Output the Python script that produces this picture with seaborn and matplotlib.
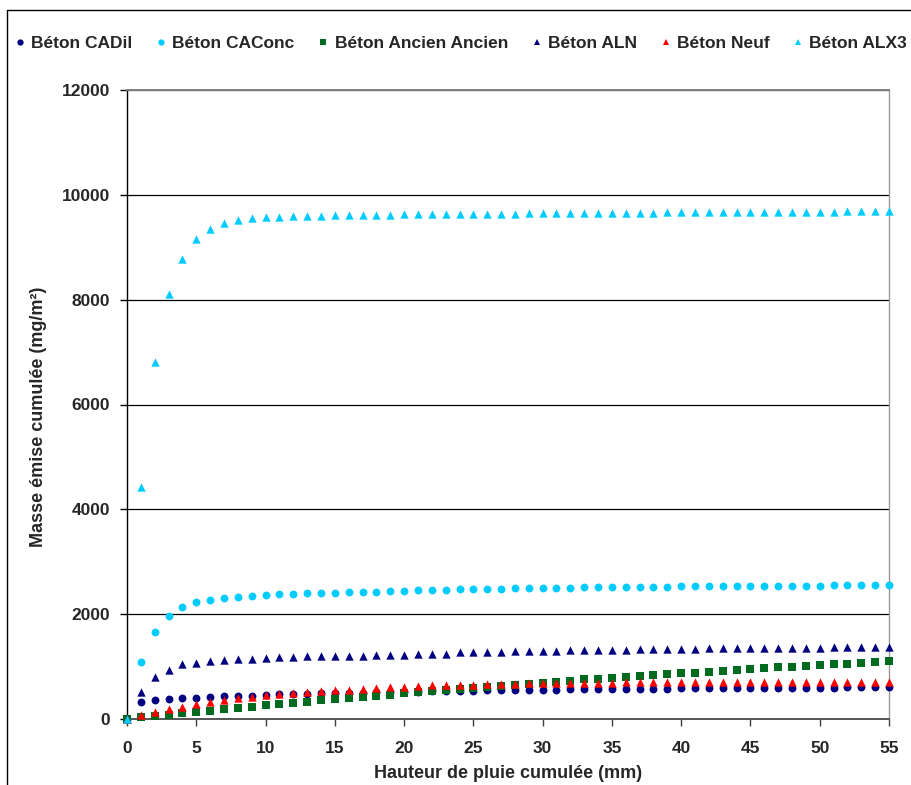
import numpy as np
import pandas as pd
import matplotlib
matplotlib.use("Agg")
import matplotlib.pyplot as plt
import seaborn as sns
from matplotlib.lines import Line2D

# ---------------- data ----------------
hauteur = list(range(0, 56))

series_names = ["Béton CADil", "Béton CAConc", "Béton Ancien Ancien",
                "Béton ALN", "Béton Neuf", "Béton ALX3"]

cadil = [0, 318, 369, 388, 407, 410, 426, 430, 445, 448,
         458, 468, 471, 485, 490, 495, 500, 505, 510, 515,
         520, 522, 525, 530, 541, 541, 545, 560, 560, 560,
         562, 562, 579, 579, 579, 580, 580, 580, 581, 581,
         598, 598, 598, 598, 598, 598, 599, 599, 599, 599,
         600, 600, 617, 617, 617, 617]

caconc = [0, 1094, 1660, 1965, 2137, 2232, 2270, 2308, 2327, 2346,
          2365, 2379, 2385, 2398, 2398, 2404, 2417, 2417, 2429, 2436,
          2435, 2461, 2461, 2461, 2474, 2474, 2474, 2474, 2493, 2493,
          2493, 2493, 2493, 2512, 2512, 2512, 2512, 2512, 2512, 2512,
          2531, 2531, 2531, 2531, 2531, 2531, 2531, 2531, 2531, 2531,
          2531, 2556, 2556, 2556, 2556, 2556]

ancien = [0, 32, 57, 76, 121, 140, 159, 197, 216, 235,
          273, 292, 312, 331, 369, 388, 407, 426, 445, 464,
          502, 515, 534, 553, 566, 585, 610, 630, 655, 674,
          693, 712, 731, 757, 769, 788, 808, 827, 846, 865,
          884, 884, 903, 922, 941, 960, 979, 998, 998, 1017,
          1036, 1056, 1056, 1075, 1094, 1113]

aln = [0, 509, 795, 941, 1043, 1075, 1113, 1126, 1145, 1151,
       1170, 1176, 1189, 1195, 1195, 1208, 1208, 1210, 1227, 1227,
       1230, 1246, 1246, 1246, 1272, 1272, 1272, 1272, 1297, 1297,
       1297, 1297, 1316, 1316, 1316, 1316, 1316, 1329, 1329, 1329,
       1329, 1329, 1348, 1348, 1348, 1348, 1348, 1348, 1348, 1348,
       1348, 1367, 1367, 1367, 1367, 1367]

neuf = [0, 70, 127, 184, 223, 280, 324, 356, 394, 413,
        452, 477, 496, 522, 540, 545, 560, 579, 598, 604,
        617, 625, 642, 642, 655, 658, 661, 668, 670, 680,
        680, 690, 693, 693, 693, 695, 697, 700, 702, 704,
        706, 706, 706, 706, 706, 706, 706, 706, 706, 706,
        706, 706, 706, 706, 706, 706]

alx3 = [0, 4432, 6816, 8107, 8775, 9157, 9342, 9456, 9519, 9557,
        9577, 9580, 9596, 9598, 9600, 9608, 9610, 9612, 9614, 9615,
        9625, 9625, 9625, 9625, 9625, 9625, 9627, 9627, 9627, 9646,
        9646, 9646, 9646, 9646, 9646, 9646, 9646, 9646, 9646, 9666,
        9666, 9666, 9666, 9666, 9666, 9666, 9666, 9666, 9666, 9666,
        9666, 9666, 9685, 9685, 9685, 9685]

x_ticks = list(range(0, 56, 5))
y_ticks = list(range(0, 12001, 2000))

# ---------------- styling ----------------
colors = {"Béton CADil": "#000080", "Béton CAConc": "#00CCFF",
          "Béton Ancien Ancien": "#006A1E", "Béton ALN": "#000080",
          "Béton Neuf": "#FF0000", "Béton ALX3": "#00CCFF"}
markers = {"Béton CADil": "o", "Béton CAConc": "o",
           "Béton Ancien Ancien": "s", "Béton ALN": "^",
           "Béton Neuf": "^", "Béton ALX3": "^"}
sizes = {"o": 32, "s": 28, "^": 36}

values = [cadil, caconc, ancien, aln, neuf, alx3]
df = pd.concat([pd.DataFrame({"x": hauteur, "y": v, "serie": n})
                for n, v in zip(series_names, values)], ignore_index=True)

sns.set_style("white")
plt.rcParams['font.family'] = ['Liberation Sans', 'DejaVu Sans']
FS_TICK = 12.5
FS_LAB = 13
FS_LEG = 12.5

fig = plt.figure(figsize=(9.11, 7.85), dpi=100)
W, H = 911, 785
ax = fig.add_axes([127 / W, 1 - 719 / H, (889 - 127) / W, (719 - 90) / H])

for name in series_names:
    sub = df[df["serie"] == name]
    m = markers[name]
    sns.scatterplot(data=sub, x="x", y="y", ax=ax, marker=m,
                    color=colors[name], s=sizes[m], linewidth=0,
                    clip_on=False, legend=False, zorder=3)

ax.set_xlim(0, 55)
ax.set_ylim(0, 12000)
ax.set_xticks(x_ticks)
ax.set_yticks(y_ticks)
ax.set_xticklabels([str(t) for t in x_ticks], fontsize=FS_TICK, fontweight="bold")
ax.set_yticklabels([str(t) for t in y_ticks], fontsize=FS_TICK, fontweight="bold")
ax.tick_params(axis="y", direction="out", length=5, width=1, color="black", pad=7, left=True)
ax.tick_params(axis="x", direction="out", length=5, width=1, color="#404040", pad=11, bottom=True)

ax.set_axisbelow(True)
ax.yaxis.grid(True, color="black", linewidth=0.9)
ax.xaxis.grid(False)

ax.spines["left"].set_color("black")
ax.spines["left"].set_linewidth(1.0)
ax.spines["bottom"].set_color("#555555")
ax.spines["bottom"].set_linewidth(1.4)
ax.spines["top"].set_color("#808080")
ax.spines["top"].set_linewidth(1.4)
ax.spines["right"].set_color("#999999")
ax.spines["right"].set_linewidth(1.0)

ax.set_xlabel("Hauteur de pluie cumulée (mm)", fontsize=FS_LAB, fontweight="bold", labelpad=6)
ax.set_ylabel("Masse émise cumulée (mg/m²)", fontsize=FS_LAB, fontweight="bold")
ax.yaxis.set_label_coords((47 - 127) / 762, (719 - 417) / 629)

# legend
handles = [Line2D([], [], linestyle="none", marker=markers[n], color=colors[n],
                  markersize=4.5 if markers[n] != "s" else 4, markeredgewidth=0)
           for n in series_names]
fig.legend(handles, series_names, loc="center", bbox_to_anchor=(461 / W, 1 - 43 / H),
           ncol=6, frameon=False, handlelength=0.6, handletextpad=0.35,
           columnspacing=1.35, prop={"size": FS_LEG, "weight": "bold"})

# outer chart frame (partially visible)
fig.add_artist(Line2D([7 / W, 7 / W], [0, 1 - 10 / H], transform=fig.transFigure,
                      color="black", linewidth=1))
fig.add_artist(Line2D([7 / W, 1.0], [1 - 10 / H, 1 - 10 / H], transform=fig.transFigure,
                      color="black", linewidth=1))

fig.savefig("out.png", dpi=100)
